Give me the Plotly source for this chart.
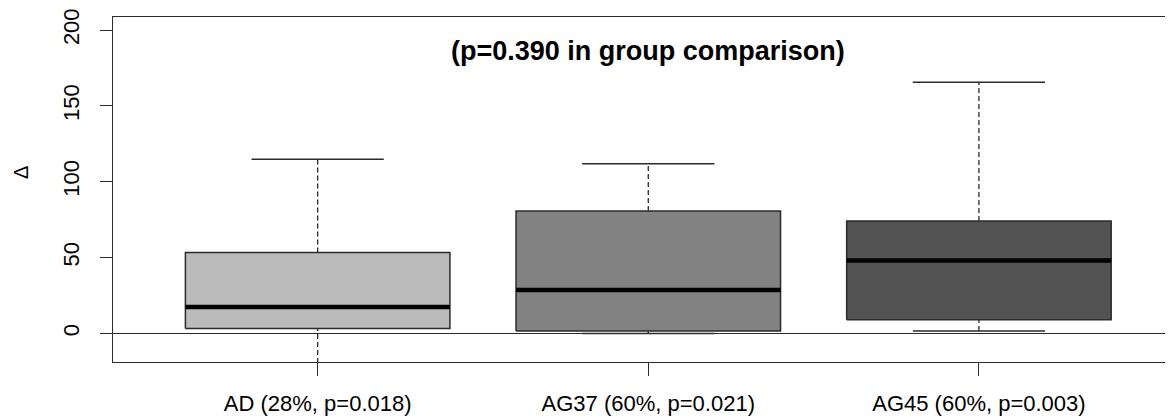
import plotly.graph_objects as go

# ---- data ----
categories = ["AD (28%, p=0.018)", "AG37 (60%, p=0.021)", "AG45 (60%, p=0.003)"]
positions = [1, 2, 3]
q1 = [3.3, 1.7, 9.0]
medians = [17.5, 28.6, 48.1]
q3 = [53.4, 80.7, 74.1]
lower_whisker = [-30.0, 0.0, 1.7]   # AD lower whisker runs below the visible range
upper_whisker = [114.8, 111.9, 165.6]
fill_colors = ["#BBBBBB", "#828282", "#525252"]
y_ticks = [0, 50, 100, 150, 200]
title_text = "(p=0.390 in group comparison)"
y_label = "Δ"

BOX_HALF = 0.4
CAP_HALF = 0.2
LINE_COL = "#2b2b2b"
FONT = "Liberation Sans, Arial, sans-serif"

# the page body adds an 8px offset; compensate so the plot lands where the reference has it
OFF = 8
W, H = 1173 - OFF, 418 - OFF
ML, MR, MT, MB = 113 - OFF, 0, 17 - OFF, 56

fig = go.Figure()

for p, a, m, b, lw, uw, fc in zip(positions, q1, medians, q3, lower_whisker, upper_whisker, fill_colors):
    # whiskers (dashed)
    fig.add_trace(go.Scatter(x=[p, p], y=[b, uw], mode="lines",
                             line=dict(color=LINE_COL, width=1.3, dash="5px,3px"),
                             hoverinfo="skip", showlegend=False))
    fig.add_trace(go.Scatter(x=[p, p], y=[lw, a], mode="lines",
                             line=dict(color=LINE_COL, width=1.3, dash="5px,3px"),
                             hoverinfo="skip", showlegend=False))
    # caps
    fig.add_trace(go.Scatter(x=[p - CAP_HALF, p + CAP_HALF], y=[uw, uw], mode="lines",
                             line=dict(color=LINE_COL, width=1.5),
                             hoverinfo="skip", showlegend=False))
    fig.add_trace(go.Scatter(x=[p - CAP_HALF, p + CAP_HALF], y=[lw, lw], mode="lines",
                             line=dict(color=LINE_COL, width=1.5),
                             hoverinfo="skip", showlegend=False))
    # box
    fig.add_trace(go.Scatter(x=[p - BOX_HALF, p + BOX_HALF, p + BOX_HALF, p - BOX_HALF, p - BOX_HALF],
                             y=[a, a, b, b, a], mode="lines", fill="toself", fillcolor=fc,
                             line=dict(color=LINE_COL, width=1.5),
                             hoverinfo="skip", showlegend=False))
    # median
    fig.add_trace(go.Scatter(x=[p - BOX_HALF, p + BOX_HALF], y=[m, m], mode="lines",
                             line=dict(color="black", width=4.5),
                             hoverinfo="skip", showlegend=False))

fig.add_annotation(x=2, y=186, xref="x", yref="y", text="<b>" + title_text + "</b>",
                   showarrow=False, font=dict(family=FONT, size=27, color="black"),
                   xanchor="center", yanchor="middle")

# y label position in window pixels: (21, 173)
fig.add_annotation(x=(21 - OFF - ML) / (W - ML - MR), y=(H - MB - (173 - OFF)) / (H - MT - MB),
                   xref="paper", yref="paper", text=y_label,
                   showarrow=False, textangle=-90,
                   font=dict(family=FONT, size=20, color="black"),
                   xanchor="center", yanchor="middle")

fig.update_layout(
    width=W, height=H,
    margin=dict(l=ML, r=MR, t=MT, b=MB, autoexpand=False),
    paper_bgcolor="white", plot_bgcolor="white",
    font=dict(family=FONT, color="black"),
    showlegend=False,
    xaxis=dict(range=[0.381, 3.587], tickmode="array", tickvals=positions, ticktext=categories,
               automargin=False,
               showgrid=False, zeroline=False, showline=True, mirror=True,
               linecolor=LINE_COL, linewidth=1.3,
               ticks="outside", ticklen=13, tickwidth=1.3, tickcolor=LINE_COL,
               tickfont=dict(family=FONT, size=22, color="black"), ticklabelstandoff=8),
    yaxis=dict(range=[-18.8, 208.6], tickmode="array", tickvals=y_ticks,
               automargin=False,
               showgrid=False, zeroline=True, zerolinecolor=LINE_COL, zerolinewidth=1.3,
               showline=True, mirror=False, linecolor=LINE_COL, linewidth=1.3,
               ticks="outside", ticklen=12, tickwidth=1.3, tickcolor=LINE_COL,
               tickangle=-90,
               tickfont=dict(family=FONT, size=22, color="black"), ticklabelstandoff=12),
)

fig.write_html("out.html")
